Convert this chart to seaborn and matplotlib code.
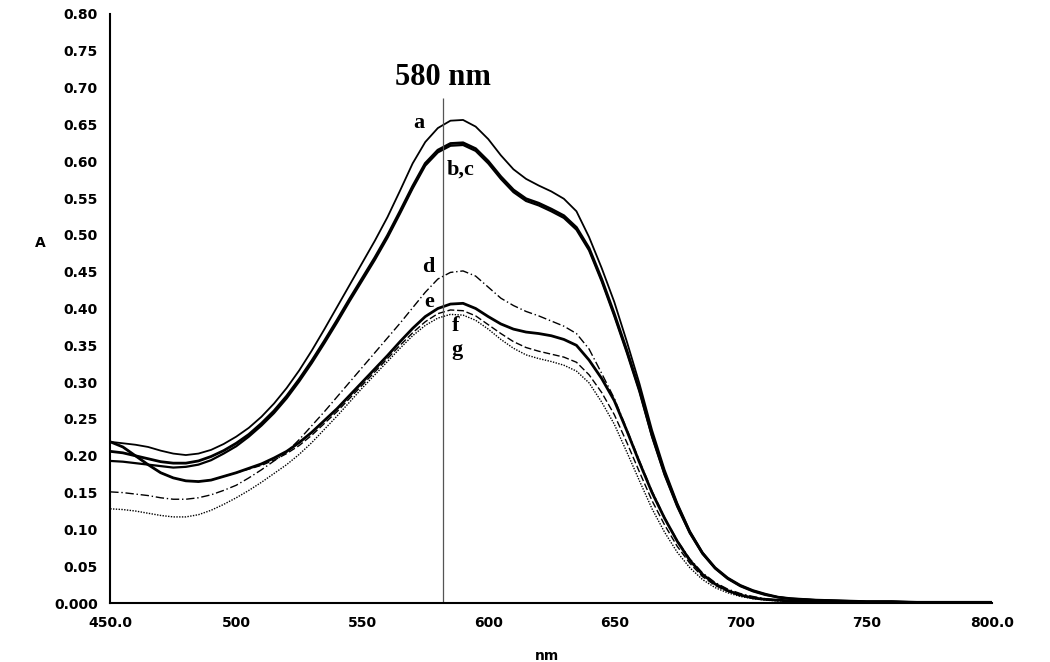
import numpy as np
import pandas as pd
import seaborn as sns
import matplotlib
matplotlib.use('Agg')
import matplotlib.pyplot as plt

# wavelength grid (nm) the curves were read at
nm = [450, 455, 460, 465, 470, 475, 480, 485, 490, 495,
      500, 505, 510, 515, 520, 525, 530, 535, 540, 545,
      550, 555, 560, 565, 570, 575, 580, 585, 590, 595,
      600, 605, 610, 615, 620, 625, 630, 635, 640, 645,
      650, 655, 660, 665, 670, 675, 680, 685, 690, 695,
      700, 705, 710, 715, 720, 730, 740, 750, 760, 770,
      780, 790, 800]

a = [.219, .217, .215, .212, .207, .203, .201, .203, .208, .216,
     .226, .238, .253, .271, .292, .316, .343, .372, .402, .432,
     .462, .492, .524, .560, .597, .626, .645, .655, .656, .647,
     .630, .608, .589, .576, .567, .559, .549, .532, .497, .455,
     .409, .355, .298, .235, .181, .136, .098, .069, .048, .034,
     .024, .017, .012, .008, .006, .004, .003, .002, .002, .001,
     .001, .001, .001]

b = [.206, .204, .200, .196, .192, .190, .190, .193, .199, .207,
     .217, .229, .244, .261, .281, .304, .329, .356, .384, .413,
     .441, .469, .499, .532, .566, .597, .615, .624, .625, .617,
     .600, .579, .561, .549, .543, .535, .526, .510, .482, .440,
     .393, .343, .290, .228, .176, .133, .096, .068, .048, .034,
     .024, .017, .012, .008, .006, .004, .003, .002, .002, .001,
     .001, .001, .001]

c = [.193, .192, .190, .188, .186, .184, .185, .188, .194, .203,
     .213, .226, .241, .258, .278, .301, .326, .353, .381, .410,
     .438, .466, .496, .529, .563, .594, .612, .621, .622, .614,
     .597, .576, .558, .546, .540, .532, .523, .507, .479, .437,
     .390, .340, .287, .226, .174, .131, .095, .067, .047, .033,
     .023, .016, .011, .008, .006, .004, .003, .002, .002, .001,
     .001, .001, .001]

d = [.151, .150, .148, .146, .143, .141, .141, .143, .147, .153,
     .160, .170, .181, .193, .205, .222, .241, .260, .280, .300,
     .320, .340, .360, .380, .401, .422, .440, .449, .451, .444,
     .429, .414, .404, .396, .390, .383, .376, .366, .345, .312,
     .278, .236, .193, .152, .116, .085, .060, .041, .028, .019,
     .013, .009, .006, .004, .003, .002, .002, .001, .001, .001,
     .001, .001, .001]

e = [.219, .212, .200, .188, .177, .170, .166, .165, .167, .172,
     .177, .182, .187, .194, .203, .214, .228, .244, .260, .278,
     .296, .314, .332, .350, .367, .382, .393, .398, .397, .390,
     .378, .366, .355, .347, .342, .338, .334, .327, .310, .286,
     .256, .218, .178, .139, .106, .077, .054, .036, .024, .016,
     .010, .007, .005, .003, .002, .002, .001, .001, .001, .001,
     .001, .001, .001]

f = [.219, .212, .200, .188, .177, .170, .166, .165, .167, .172,
     .177, .183, .189, .197, .206, .218, .232, .248, .264, .282,
     .300, .318, .336, .355, .373, .389, .400, .406, .407, .400,
     .389, .379, .372, .368, .366, .363, .358, .350, .330, .305,
     .275, .234, .191, .150, .115, .084, .058, .039, .026, .017,
     .011, .007, .005, .004, .003, .002, .002, .001, .001, .001,
     .001, .001, .001]

g = [.128, .127, .125, .122, .119, .117, .117, .120, .126, .134,
     .143, .153, .164, .176, .188, .202, .218, .236, .254, .273,
     .292, .310, .328, .346, .363, .377, .387, .392, .391, .384,
     .372, .358, .346, .337, .332, .328, .323, .315, .299, .273,
     .243, .205, .166, .128, .096, .069, .048, .032, .021, .014,
     .009, .006, .004, .003, .002, .002, .001, .001, .001, .001,
     .001, .001, .001]

x_ticks = [450, 500, 550, 600, 650, 700, 750, 800]
x_ticklabels = ['450.0', '500', '550', '600', '650', '700', '750', '800.0']
y_ticks = [0.0, 0.05, 0.10, 0.15, 0.20, 0.25, 0.30, 0.35, 0.40,
           0.45, 0.50, 0.55, 0.60, 0.65, 0.70, 0.75, 0.80]
y_ticklabels = ['0.000', '0.05', '0.10', '0.15', '0.20', '0.25', '0.30', '0.35', '0.40',
                '0.45', '0.50', '0.55', '0.60', '0.65', '0.70', '0.75', '0.80']

marker_nm = 582
marker_top = 0.686

curves = {'a': a, 'b': b, 'c': c, 'd': d, 'e': e, 'f': f, 'g': g}
styles = {'a': dict(lw=1.3, ls='-'),
          'b': dict(lw=2.0, ls='-'),
          'c': dict(lw=1.6, ls='-'),
          'd': dict(lw=1.0, ls=(0, (6, 2, 1, 2))),
          'e': dict(lw=1.0, ls=(0, (5, 2))),
          'f': dict(lw=2.0, ls='-'),
          'g': dict(lw=1.0, ls=(0, (1, 1)))}

# curve labels near the 580 nm line
label_pos = {'a': (574.5, 0.652), 'b,c': (583.5, 0.588), 'd': (578.5, 0.457),
             'e': (578.5, 0.409), 'f': (585.5, 0.376), 'g': (585.5, 0.344)}

df = pd.DataFrame({'nm': nm})
for k, v in curves.items():
    df[k] = v
long = df.melt(id_vars='nm', var_name='sample', value_name='A')

sns.set_style('white')
plt.rcParams.update({'text.color': 'black', 'axes.labelcolor': 'black',
                     'xtick.color': 'black', 'ytick.color': 'black'})
fig = plt.figure(figsize=(10.5, 6.62), dpi=100)
ax = fig.add_axes([0.105, 0.089, 0.84, 0.89])

for k in curves:
    sub = long[long['sample'] == k]
    sns.lineplot(data=sub, x='nm', y='A', ax=ax, color='black',
                 linewidth=styles[k]['lw'], linestyle=styles[k]['ls'])

ax.vlines(marker_nm, 0, marker_top, color='#555555', lw=0.9)
ax.text(marker_nm, 0.713, '580 nm', ha='center', va='center', color='black',
        fontsize=22, fontweight='bold', family='Liberation Serif')
for txt, (xx, yy) in label_pos.items():
    ha = 'right' if txt in ('a', 'd', 'e') else 'left'
    ax.text(xx, yy, txt, ha=ha, va='center', fontsize=16, color='black',
            fontweight='bold', family='Liberation Serif')

ax.set_xlim(450, 800)
ax.set_ylim(0, 0.80)
ax.set_xticks(x_ticks)
ax.set_xticklabels(x_ticklabels)
ax.set_yticks(y_ticks)
ax.set_yticklabels(y_ticklabels)
for lab in ax.get_xticklabels() + ax.get_yticklabels():
    lab.set_fontweight('bold')
    lab.set_family('DejaVu Sans')
    lab.set_fontsize(10)
    lab.set_color('black')
ax.tick_params(axis='both', direction='out', length=6, width=1.3, color='black', pad=3)

ax.set_xlabel('nm', fontsize=10, fontweight='bold', family='DejaVu Sans', color='black')
ax.set_ylabel('A', fontsize=10, fontweight='bold', family='DejaVu Sans', rotation=0, color='black')
ax.xaxis.set_label_coords(0.495, -0.078)
ax.yaxis.set_label_coords(-0.079, 0.599)

sns.despine(ax=ax)
for sp in ['left', 'bottom']:
    ax.spines[sp].set_linewidth(1.5)
    ax.spines[sp].set_color('black')

fig.savefig('out.png', dpi=100)
